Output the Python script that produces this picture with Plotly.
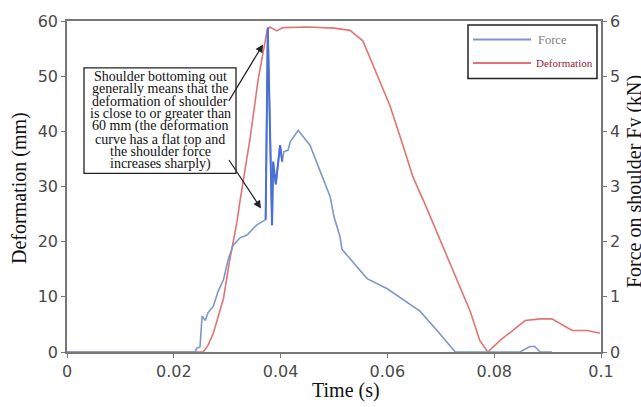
import plotly.graph_objects as go

# Time axis (s) and shoulder force (kN)
force_t = [0.0, 0.0240, 0.0243, 0.0249, 0.0253, 0.0259, 0.0264, 0.0274, 0.0283, 0.0293,
           0.0302, 0.0311, 0.0324, 0.0337, 0.0355, 0.0372, 0.0376, 0.0384, 0.0386, 0.0391,
           0.0399, 0.0403, 0.0406, 0.0414, 0.0418, 0.0433, 0.0455, 0.0474, 0.0493, 0.0500,
           0.0511, 0.0515, 0.0562, 0.0599, 0.0661, 0.0693, 0.0727, 0.0848, 0.0867, 0.0876,
           0.0886, 0.0908]
force_kn = [0.0, 0.0, 0.07, 0.09, 0.65, 0.57, 0.71, 0.83, 1.10, 1.31,
            1.68, 1.93, 2.07, 2.12, 2.30, 2.40, 5.88, 2.30, 3.45, 3.04,
            3.75, 3.45, 3.63, 3.66, 3.81, 4.02, 3.75, 3.27, 2.81, 2.45,
            2.10, 1.86, 1.33, 1.15, 0.74, 0.39, 0.0, 0.0, 0.10, 0.10,
            0.0, 0.0]

# Time axis (s) and shoulder deformation (mm)
defo_t = [0.0, 0.0255, 0.0264, 0.0274, 0.0293, 0.0305, 0.0318, 0.0324, 0.0343, 0.0358,
          0.0375, 0.0380, 0.0393, 0.0404, 0.0450, 0.0500, 0.0530, 0.0554, 0.0580, 0.0605,
          0.0629, 0.0648, 0.0670, 0.0693, 0.0723, 0.0755, 0.0773, 0.0788, 0.0811, 0.0835,
          0.0858, 0.0886, 0.0908, 0.0946, 0.0974, 0.0998]
defo_mm = [0.0, 0.0, 1.2, 3.4, 9.7, 16.8, 23.4, 27.4, 38.8, 49.4,
           58.4, 58.9, 58.2, 58.8, 58.9, 58.7, 58.3, 56.4, 50.4, 44.6,
           37.5, 31.7, 26.9, 21.6, 15.0, 7.4, 2.1, 0.0, 2.1, 3.9,
           5.7, 6.0, 6.0, 3.9, 3.9, 3.4]

x_ticks = [0, 0.02, 0.04, 0.06, 0.08, 0.1]
x_tick_text = ["0", "0.02", "0.04", "0.06", "0.08", "0.1"]
y_ticks = [0, 10, 20, 30, 40, 50, 60]
y2_ticks = [0, 1, 2, 3, 4, 5, 6]

note_lines = [
    "Shoulder bottoming out",
    "generally means that the",
    "deformation of shoulder",
    "is close to or greater than",
    "60 mm (the deformation",
    "curve has a flat top and",
    "the shoulder force",
    "increases sharply)",
]

BLUE = "#7d96cc"
BLUE_SPIKE = "#4a70d8"
RED = "#e07474"
AXIS = "#777777"
SERIF = "Liberation Serif, Times New Roman, serif"
SANS = "DejaVu Sans, sans-serif"

W, H = 641, 407
ML, MR, MT, MB = 67, 40, 13, 55
PW, PH = W - ML - MR, H - MT - MB


def px(x):
    return (x - ML) / PW


def py(y):
    return (H - MB - y) / PH


fig = go.Figure()

fig.add_trace(go.Scatter(x=force_t, y=force_kn, mode="lines", yaxis="y2",
                         line=dict(color=BLUE, width=1.6), showlegend=False))
# the sharp force spike, drawn in a stronger blue
i0, i1 = force_t.index(0.0372), force_t.index(0.0403)
fig.add_trace(go.Scatter(x=force_t[i0:i1 + 1], y=force_kn[i0:i1 + 1], mode="lines",
                         yaxis="y2", line=dict(color=BLUE_SPIKE, width=2),
                         showlegend=False))
fig.add_trace(go.Scatter(x=defo_t, y=defo_mm, mode="lines",
                         line=dict(color=RED, width=1.6), showlegend=False))

axis_common = dict(showgrid=False, zeroline=False, showline=True, linecolor=AXIS,
                   linewidth=1.5, ticks="outside", ticklen=4, tickcolor=AXIS,
                   tickwidth=1, tickfont=dict(family=SANS, size=16, color="#4a4a4a"))

fig.update_layout(
    width=W, height=H,
    margin=dict(l=ML, r=MR, t=MT, b=MB),
    paper_bgcolor="white", plot_bgcolor="white",
    xaxis=dict(range=[0, 0.1], tickvals=x_ticks, ticktext=x_tick_text,
               mirror=True, **axis_common),
    yaxis=dict(range=[0, 60], tickvals=y_ticks, **axis_common),
    yaxis2=dict(range=[0, 6], tickvals=y2_ticks, overlaying="y", side="right",
                **axis_common),
)

annotations = []
title_font = dict(family=SERIF, size=20, color="#111111")
# axis titles
annotations.append(dict(text="Time (s)", x=px(346), y=py(391), xref="paper", yref="paper",
                         xanchor="center", yanchor="middle", showarrow=False,
                         font=title_font))
annotations.append(dict(text="Deformation (mm)", x=px(20), y=py(184), xref="paper",
                         yref="paper", xanchor="center", yanchor="middle", textangle=-90,
                         showarrow=False, font=title_font))
annotations.append(dict(text="Force on shoulder Fy (kN)", x=px(634), y=py(178), xref="paper",
                         yref="paper", xanchor="center", yanchor="middle", textangle=-90,
                         showarrow=False, font=title_font))

# explanatory note, one annotation per line
line_y = [69.5, 82.3, 95.2, 108.2, 121, 134, 146.8, 159.8]
for txt, ly in zip(note_lines, line_y):
    annotations.append(dict(text=txt, x=px(160), y=py(ly), xref="paper", yref="paper",
                            xanchor="center", yanchor="middle", showarrow=False,
                            font=dict(family=SERIF, size=14, color="#111111")))

# arrows from the note to the curves
annotations.append(dict(text="", x=px(263), y=py(37), xref="paper", yref="paper",
                         showarrow=True, ax=-35, ay=58, arrowhead=2, arrowsize=1.3,
                         arrowwidth=1.2, arrowcolor="#222222"))
annotations.append(dict(text="", x=px(261), y=py(205), xref="paper", yref="paper",
                         showarrow=True, ax=-33, ay=-50, arrowhead=2, arrowsize=1.3,
                         arrowwidth=1.2, arrowcolor="#222222"))

# legend entries
annotations.append(dict(text="Force", x=px(536), y=py(32), xref="paper", yref="paper",
                         xanchor="left", yanchor="middle", showarrow=False,
                         font=dict(family=SERIF, size=12.5, color="#808080")))
annotations.append(dict(text="Deformation", x=px(534), y=py(56), xref="paper", yref="paper",
                         xanchor="left", yanchor="middle", showarrow=False,
                         font=dict(family=SERIF, size=11, color="#9b2335")))

shapes = [
    dict(type="rect", xref="paper", yref="paper", x0=px(84), x1=px(236), y0=py(61),
         y1=py(169), line=dict(color="#222222", width=1.3), fillcolor="rgba(0,0,0,0)"),
    dict(type="rect", xref="paper", yref="paper", x0=px(468), x1=px(597), y0=py(17),
         y1=py(72), line=dict(color="#222222", width=1.5), fillcolor="white"),
    dict(type="line", xref="paper", yref="paper", x0=px(473), x1=px(531), y0=py(32),
         y1=py(32), line=dict(color=BLUE, width=2)),
    dict(type="line", xref="paper", yref="paper", x0=px(473), x1=px(531), y0=py(56),
         y1=py(56), line=dict(color=RED, width=2)),
]

fig.update_layout(annotations=annotations, shapes=shapes)

fig.write_html("out.html")
